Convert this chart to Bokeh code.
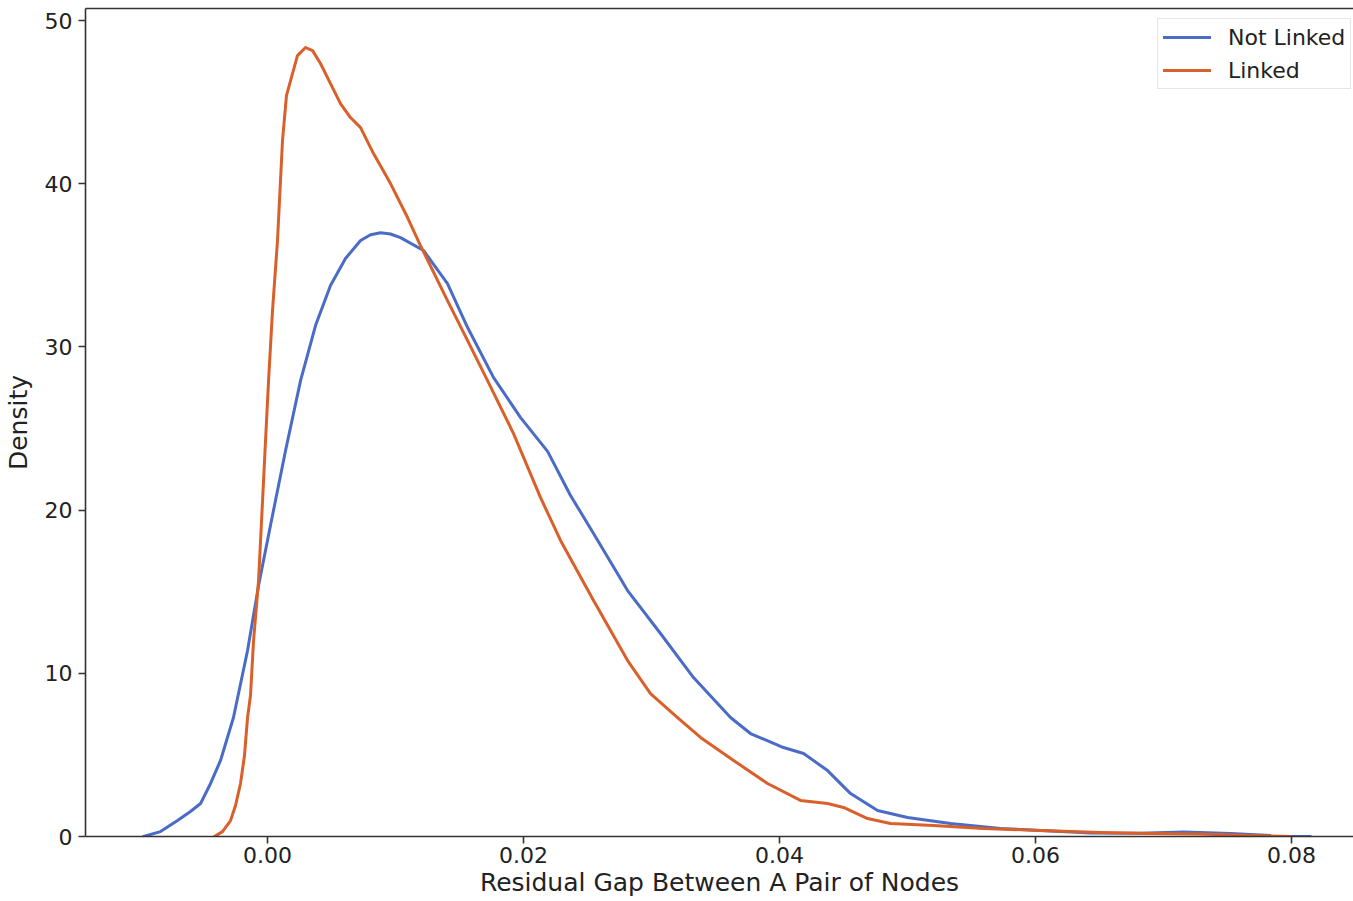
from bokeh.plotting import figure
from bokeh.models import (LinearAxis, FixedTicker, PrintfTickFormatter, Legend,
                          LegendItem, Range1d)
from bokeh.embed import file_html
from bokeh.resources import INLINE

# ---- data ----
not_linked_x = [-0.00969, -0.00836, -0.00703, -0.00602, -0.00523, -0.00445, -0.00367,
                -0.00266, -0.00156, -0.00070, 0.00023, 0.00141, 0.00258, 0.00375,
                0.00492, 0.00609, 0.00727, 0.00805, 0.00883, 0.00961, 0.01039, 0.01219,
                0.01406, 0.01563, 0.01766, 0.01977, 0.02188, 0.02367, 0.02547, 0.02813,
                0.03070, 0.03328, 0.03617, 0.03773, 0.04031, 0.04188, 0.04375,
                0.04555, 0.04766, 0.05000, 0.05336, 0.05727, 0.06039, 0.06430,
                0.06820, 0.07156, 0.07523, 0.07836, 0.08148]
not_linked_y = [0.0, 0.30, 0.98, 1.53, 2.02, 3.25, 4.66,
                7.29, 11.40, 15.38, 19.06, 23.65, 27.94, 31.31,
                33.76, 35.42, 36.52, 36.88, 37.00, 36.92, 36.70, 35.91,
                33.88, 31.19, 28.12, 25.67, 23.60, 20.90, 18.57, 15.07,
                12.44, 9.74, 7.29, 6.31, 5.45, 5.09, 4.04,
                2.63, 1.59, 1.16, 0.80, 0.49, 0.37, 0.22,
                0.20, 0.28, 0.18, 0.06, 0.0]

linked_x = [-0.00415, -0.00352, -0.00289, -0.00250, -0.00211, -0.00180, -0.00156,
            -0.00133, -0.00109, -0.00070, -0.00031, 0.00008, 0.00039, 0.00078,
            0.00117, 0.00148, 0.00180, 0.00234, 0.00297, 0.00352, 0.00414,
            0.00492, 0.00570, 0.00648, 0.00727, 0.00828, 0.00961, 0.01094,
            0.01195, 0.01406, 0.01563, 0.01719, 0.01922, 0.02133, 0.02289,
            0.02547, 0.02813, 0.02992, 0.03203, 0.03383, 0.03641, 0.03906,
            0.04164, 0.04375, 0.04500, 0.04688, 0.04867, 0.05203, 0.05594,
            0.06039, 0.06508, 0.06898, 0.07289, 0.07680, 0.07992]
linked_y = [0.0, 0.30, 0.98, 1.90, 3.25, 4.96, 7.29,
            8.64, 12.00, 15.69, 21.81, 27.94, 32.23, 36.52,
            42.65, 45.40, 46.32, 47.85, 48.35, 48.16, 47.37,
            46.14, 44.91, 44.06, 43.44, 41.85, 40.01, 37.93,
            36.21, 32.84, 30.39, 27.94, 24.69, 20.77, 18.14,
            14.46, 10.78, 8.76, 7.29, 6.07, 4.66, 3.25,
            2.21, 2.02, 1.78, 1.10, 0.80, 0.67, 0.49,
            0.37, 0.25, 0.18, 0.15, 0.06, 0.0]

series_names = ["Not Linked", "Linked"]
series_colors = ["#4a6bc6", "#d9602a"]
x_ticks = [0.0, 0.02, 0.04, 0.06, 0.08]
y_ticks = [0, 10, 20, 30, 40, 50]

FONT = "DejaVu Sans"
TXT = "#222222"
SPINE = "#333333"

p = figure(width=1353, height=901, output_backend="svg", toolbar_location=None,
           x_axis_location=None, y_axis_location=None,
           x_range=Range1d(-0.01422, 0.08484), y_range=Range1d(0, 50.74),
           min_border_left=85, min_border_right=0, min_border_top=8,
           min_border_bottom=65)
p.outline_line_color = None
p.xgrid.visible = False
p.ygrid.visible = False
p.background_fill_color = "white"
p.border_fill_color = "white"

def style_axis(ax):
    ax.axis_line_color = SPINE
    ax.axis_line_width = 1.6
    ax.major_tick_line_color = SPINE
    ax.major_tick_line_width = 1.6
    ax.major_tick_out = 7
    ax.major_tick_in = 0
    ax.minor_tick_line_color = None
    ax.major_label_text_font = FONT
    ax.major_label_text_font_size = "22px"
    ax.major_label_text_color = TXT
    ax.axis_label_text_font = FONT
    ax.axis_label_text_font_size = "25px"
    ax.axis_label_text_font_style = "normal"
    ax.axis_label_text_color = TXT

xaxis = LinearAxis(ticker=FixedTicker(ticks=x_ticks),
                   formatter=PrintfTickFormatter(format="%.2f"),
                   axis_label="Residual Gap Between A Pair of Nodes")
style_axis(xaxis)
xaxis.major_label_standoff = 3
xaxis.axis_label_standoff = 2
p.add_layout(xaxis, "below")

yaxis = LinearAxis(ticker=FixedTicker(ticks=y_ticks), axis_label="Density")
style_axis(yaxis)
yaxis.major_label_standoff = 6
yaxis.axis_label_standoff = 9
p.add_layout(yaxis, "left")

top = LinearAxis(ticker=FixedTicker(ticks=[]), axis_label=None)
top.axis_line_color = SPINE
top.axis_line_width = 1.6
top.major_tick_out = 0
top.major_tick_in = 0
top.minor_tick_out = 0
top.minor_tick_in = 0
top.major_label_standoff = 0
top.major_label_text_font_size = "0px"
p.add_layout(top, "above")

r1 = p.line(not_linked_x, not_linked_y, line_color=series_colors[0], line_width=3,
            line_join="round", line_cap="round")
r2 = p.line(linked_x, linked_y, line_color=series_colors[1], line_width=3,
            line_join="round", line_cap="round")

legend = Legend(items=[LegendItem(label=series_names[0], renderers=[r1]),
                       LegendItem(label=series_names[1], renderers=[r2])],
                location=(1072, 747), margin=0, padding=5, spacing=7,
                glyph_width=48, glyph_height=26, label_height=26,
                label_standoff=17, label_text_font=FONT,
                label_text_font_size="22px", label_text_color=TXT,
                border_line_color="#cccccc", border_line_width=1,
                background_fill_color="white", background_fill_alpha=0.85)
p.add_layout(legend, "center")

open("out.html", "w").write(file_html(p, INLINE))
